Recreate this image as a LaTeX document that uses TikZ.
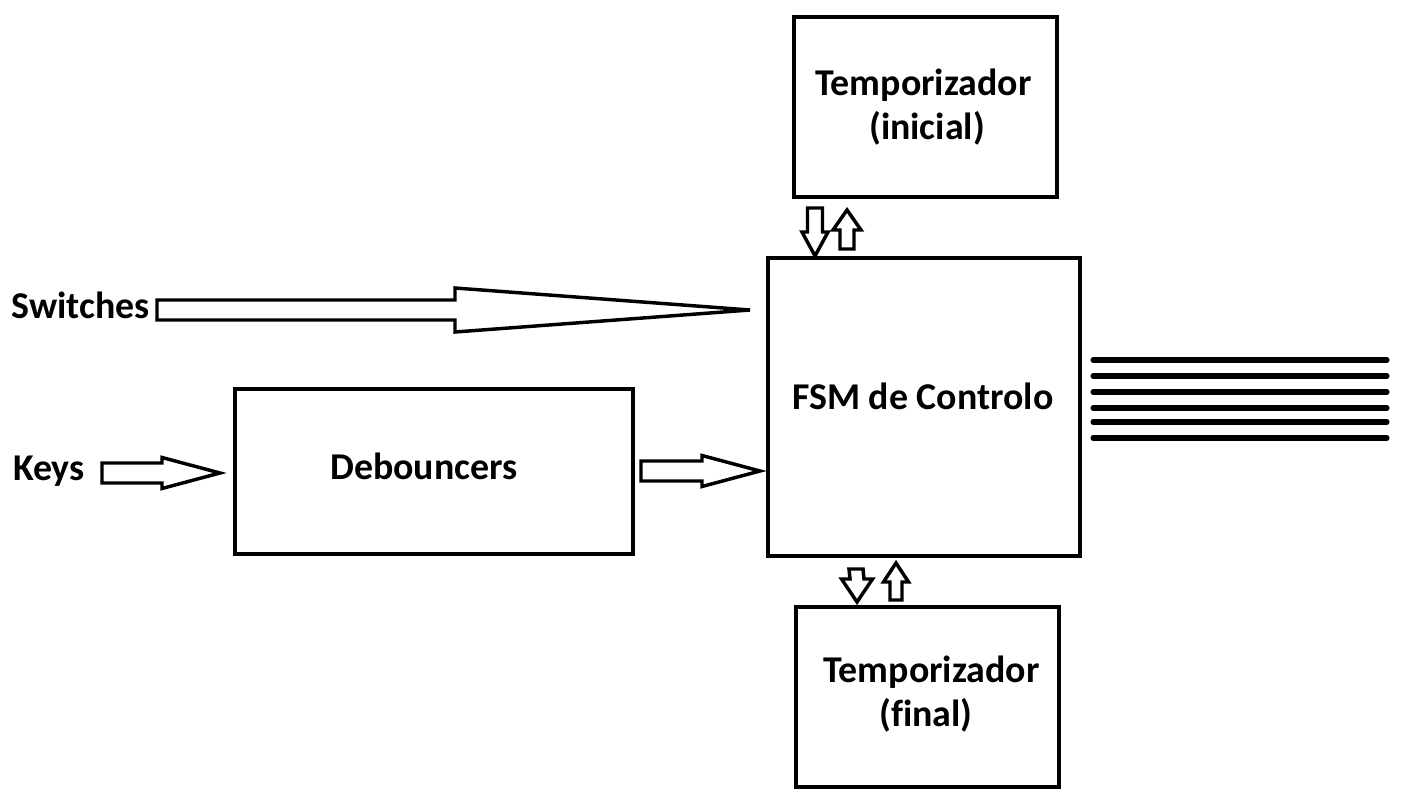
\documentclass[tikz,border=0pt]{standalone}
\usepackage{fontspec}
\setmainfont[Ligatures=NoCommon]{Carlito}
\usetikzlibrary{calc}
\tikzset{
  box/.style={draw, line width=2.6pt, inner sep=0pt},
  lbl/.style={font=\bfseries\fontsize{28.4}{33}\selectfont, anchor=base, inner sep=0pt},
  blk/.style={draw, line width=2.6pt, fill=white},
  outl/.style={line width=3.8pt, line cap=round}
}
\newcommand\harrow[5]{%
  \draw[blk] ($(#1)+(0,-#3)$) -- ($(#2)+(-#5,-#3)$) -- ($(#2)+(-#5,-#4)$) -- (#2)
    -- ($(#2)+(-#5,#4)$) -- ($(#2)+(-#5,#3)$) -- ($(#1)+(0,#3)$) -- cycle;}
\newcommand\varrow[5]{%
  \draw[blk] ($(#1)+(-#3,0)$) -- ($(#2)+(-#3,#5)$) -- ($(#2)+(-#4,#5)$) -- (#2)
    -- ($(#2)+(#4,#5)$) -- ($(#2)+(#3,#5)$) -- ($(#1)+(#3,0)$) -- cycle;}
\begin{document}
\begin{tikzpicture}[x=0.75pt, y=-0.75pt]
\useasboundingbox (0,0) rectangle (1401,802);
% boxes
\node[box, minimum width=263*0.75pt, minimum height=180*0.75pt] (tini) at (925.5,107) {};
\node[box, minimum width=312*0.75pt, minimum height=298*0.75pt] (fsm) at (924,407) {};
\node[box, minimum width=398*0.75pt, minimum height=165*0.75pt] (deb) at (434,471.5) {};
\node[box, minimum width=263*0.75pt, minimum height=180*0.75pt] (tfin) at (927.5,697) {};
% texts
\node[lbl] (tiniA) at (923.5,96) {Temporizador};
\node[lbl] (tiniB) at (927,140) {(inicial)};
\node[lbl] (fsmt) at (923,409) {FSM de Controlo};
\node[lbl] (debt) at (424,479) {Debouncers};
\node[lbl] (tfinA) at (931.5,682) {Temporizador};
\node[lbl] (tfinB) at (926,726) {(final)};
\node[lbl] (sw) at (80.5,318) {Switches};
\node[lbl] (keys) at (49,480) {Keys};
% arrow endpoints
\coordinate (swS) at (157,310);
\coordinate (swT) at (750,310);
\coordinate (kS) at (102,473);
\coordinate (kT) at (220,473);
\coordinate (dS) at (641,471);
\coordinate (dT) at (760,471);
\coordinate (tdS) at (815,208);
\coordinate (tdT) at (815,256);
\coordinate (tuS) at (847,249);
\coordinate (tuT) at (847,210);
\coordinate (bdS) at (856,569);
\coordinate (bdT) at (857,602);
\coordinate (buS) at (896,600);
\coordinate (buT) at (896,563);
\harrow{swS}{swT}{10}{22}{295}
\harrow{kS}{kT}{10}{15.5}{58}
\harrow{dS}{dT}{10}{15.5}{58}
\varrow{tdS}{tdT}{7.5}{13}{-24}
\varrow{tuS}{tuT}{7}{14}{20}
\varrow{bdS}{bdT}{7}{15.5}{-23}
\varrow{buS}{buT}{6}{12.5}{19}
% output lines
\foreach \i/\yy in {1/360,2/376,3/392,4/408,5/422,6/438}{
  \coordinate (oA\i) at (1093,\yy);
  \coordinate (oB\i) at (1387,\yy);
  \draw[outl] (oA\i) -- (oB\i);
}
\end{tikzpicture}
\end{document}
